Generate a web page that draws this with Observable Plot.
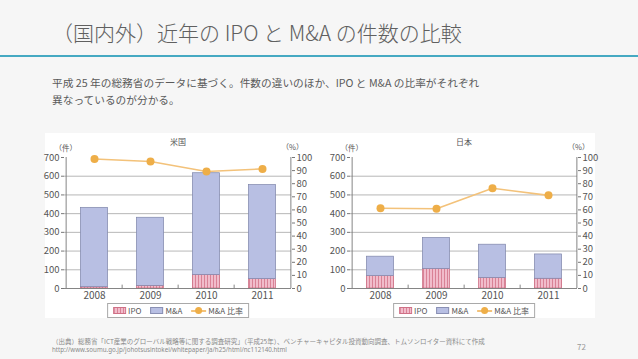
<!DOCTYPE html>
<html><head><meta charset="utf-8">
<script src="https://cdn.jsdelivr.net/npm/d3@7"></script>
<script src="https://cdn.jsdelivr.net/npm/@observablehq/plot@0.6"></script>
<style>
html,body{margin:0;padding:0;}
body{width:638px;height:359px;position:relative;overflow:hidden;background:#f6f6f6;font-family:"Noto Sans CJK JP","Noto Sans",sans-serif;color:#595959;}
#title{position:absolute;left:52px;top:17px;font-size:21px;font-weight:300;line-height:30px;white-space:nowrap;color:#606060;}
#rule{position:absolute;left:0;top:55px;width:638px;height:1.5px;background:#45a9c2;}
#lead{position:absolute;left:52px;top:74px;font-size:10.7px;line-height:17px;white-space:nowrap;color:#5a5a5a;}
#panel{position:absolute;left:45px;top:133px;width:550px;height:185px;background:#fff;}
.chart{position:absolute;top:133px;}
.chart svg{overflow:visible;}
.legend{position:absolute;top:303px;height:13px;border:1px solid #a9a9a9;display:flex;align-items:center;font-family:"Liberation Sans Narrow","Noto Sans CJK JP",sans-serif;font-size:8px;color:#555;padding:0 5px;transform:translateX(-50%);white-space:nowrap;background:#fff;}
.legend .sw{display:inline-block;width:13px;height:7px;margin-right:2px;box-sizing:border-box;}
.legend .ipo{background:repeating-linear-gradient(90deg,#d98296 0 1px,#f1bccb 1px 3px);border:1px solid #cf7086;}
.legend .ma{background:#b8bfe3;border:1px solid #8a90b4;}
.legend .ln{position:relative;display:inline-block;width:15px;height:7px;margin-right:2px;}
.legend .ln::before{content:"";position:absolute;left:0;right:0;top:3px;height:1.5px;background:#f3c27a;}
.legend .ln::after{content:"";position:absolute;left:4px;top:0;width:7px;height:7px;border-radius:50%;background:#eeae48;}
.legend .gap{display:inline-block;width:9px;}
#cap1{position:absolute;left:52px;top:337px;font-size:6.5px;line-height:8px;color:#8a8a8a;white-space:nowrap;}
#cap2{position:absolute;left:52px;top:346px;font-size:6.2px;line-height:8px;color:#8a8a8a;white-space:nowrap;font-family:"Noto Sans",sans-serif;}
#page{position:absolute;left:577px;top:341px;font-size:8px;color:#999;}
</style></head>
<body>
<svg width="0" height="0" style="position:absolute">
  <defs>
    <pattern id="ipoStripe" patternUnits="userSpaceOnUse" width="3" height="10">
      <rect width="3" height="10" fill="#f1bccb"></rect>
      <rect width="1" height="10" fill="#d98296"></rect>
    </pattern>
  </defs>
</svg>
<div id="title">（国内外）近年の IPO と M&amp;A の件数の比較</div>
<div id="rule"></div>
<div id="lead">平成 25 年の総務省のデータに基づく。件数の違いのほか、IPO と M&amp;A の比率がそれぞれ<br>異なっているのが分かる。</div>
<div id="panel"></div>
<div id="usChart" class="chart" style="left:45px"></div>
<div id="jpChart" class="chart" style="left:318px"></div>
<div class="legend" style="left:178px"><span class="sw ipo"></span>IPO<span class="gap"></span><span class="sw ma"></span>M&amp;A<span class="gap"></span><span class="ln"></span>M&amp;A 比率</div>
<div class="legend" style="left:464px"><span class="sw ipo"></span>IPO<span class="gap"></span><span class="sw ma"></span>M&amp;A<span class="gap"></span><span class="ln"></span>M&amp;A 比率</div>
<div id="cap1">（出典）総務省「ICT産業のグローバル戦略等に関する調査研究」（平成25年）、ベンチャーキャピタル投資動向調査、トムソンロイター資料にて作成</div>
<div id="cap2">http://www.soumu.go.jp/johotsusintokei/whitepaper/ja/h25/html/nc112140.html</div>
<div id="page">72</div>
<script>
// ---- data ----
const years = ["2008", "2009", "2010", "2011"];
const usIPO = [7, 14, 72, 50];
const usMA = [424, 364, 544, 503];
const usRatio = [98.9, 96.9, 89.3, 91.3];
const jpIPO = [66, 104, 56, 52];
const jpMA = [104, 166, 178, 130];
const jpRatio = [61.3, 60.9, 76.5, 71.1];
const leftTicks = [0, 100, 200, 300, 400, 500, 600, 700];
const rightTicks = [0, 10, 20, 30, 40, 50, 60, 70, 80, 90, 100];

const RATIO_K = 7; // 100% on the right axis aligns with 700 on the left

function drawChart(el, title, ipo, ma, ratio, marginLeft) {
  const frameW = 227, marginRight = 22;
  const bw = frameW / years.length;
  const inset = (bw - 28) / 2;
  const rows = years.map((year, i) => ({year, ipo: ipo[i], ma: ma[i], ratio: ratio[i]}));
  const axisColor = "#777";
  const p = Plot.plot({
    width: marginLeft + frameW + marginRight,
    height: 169,
    marginLeft, marginRight, marginTop: 24, marginBottom: 14,
    style: {fontFamily: '"Liberation Sans Narrow","Noto Sans CJK JP",sans-serif', fontSize: "9.5px", color: "#555", background: "transparent", overflow: "visible"},
    x: {domain: years, padding: 0, axis: null},
    y: {domain: [0, 700], axis: null},
    marks: [
      Plot.ruleY(leftTicks.filter(d => d > 0 && d < 700), {stroke: "#a5a5a5", strokeWidth: 0.8}),
      Plot.barY(rows, {x: "year", y1: 0, y2: "ipo", fill: "url(#ipoStripe)", stroke: "#c9657c", strokeWidth: 0.7, insetLeft: inset, insetRight: inset}),
      Plot.barY(rows, {x: "year", y1: "ipo", y2: d => d.ipo + d.ma, fill: "#b8bfe3", stroke: "#7f86aa", strokeWidth: 0.7, insetLeft: inset, insetRight: inset}),
      Plot.ruleY([0], {stroke: axisColor, strokeWidth: 0.9}),
      Plot.ruleX([years[0]], {dx: -bw / 2, stroke: axisColor, strokeWidth: 0.9}),
      Plot.ruleX([years[years.length - 1]], {dx: bw / 2, stroke: axisColor, strokeWidth: 0.9}),
      Plot.ruleX(years.slice(1), {dx: -bw / 2, y1: 0, y2: 18, stroke: axisColor, strokeWidth: 0.9}),
      Plot.axisY({anchor: "left", ticks: leftTicks, tickSize: 3, tickPadding: 2, label: null, stroke: axisColor}),
      Plot.axisY({anchor: "right", ticks: rightTicks.map(v => v * RATIO_K), tickFormat: d => String(Math.round(d / RATIO_K)), tickSize: 3, tickPadding: 2, label: null, stroke: axisColor}),
      Plot.axisX({anchor: "bottom", tickSize: 0, tickPadding: 3, label: null, fontSize: 10}),
      Plot.line(rows, {x: "year", y: d => d.ratio * RATIO_K, stroke: "#f3c27a", strokeWidth: 1.6}),
      Plot.dot(rows, {x: "year", y: d => d.ratio * RATIO_K, r: 4, fill: "#eeae48", stroke: "none"}),
      Plot.text([title], {frameAnchor: "top", dy: -18, fontSize: 8, fontFamily: '"Noto Sans CJK JP",sans-serif'}),
      Plot.text(["（件）"], {frameAnchor: "top-left", dx: -10, dy: -12, fontSize: 7.5, fontFamily: '"Noto Sans CJK JP",sans-serif'}),
      Plot.text(["（%）"], {frameAnchor: "top-right", dx: 12, dy: -13, fontSize: 7.5, fontFamily: '"Noto Sans CJK JP",sans-serif'})
    ]
  });
  el.appendChild(p);
}

drawChart(document.getElementById("usChart"), "米国", usIPO, usMA, usRatio, 19);
drawChart(document.getElementById("jpChart"), "日本", jpIPO, jpMA, jpRatio, 32);
</script>
</body></html>
